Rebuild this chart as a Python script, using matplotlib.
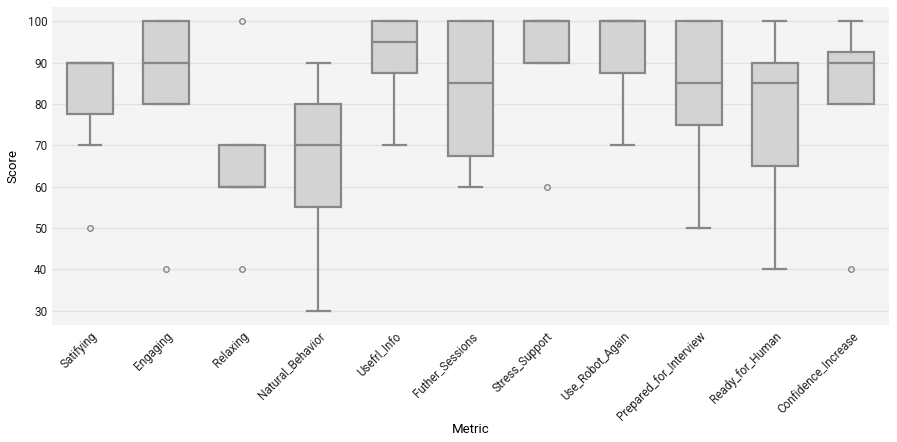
import matplotlib
matplotlib.use("Agg")
import matplotlib.pyplot as plt

plt.rcParams['font.family'] = ['Roboto', 'DejaVu Sans']

metrics = ["Satifying", "Engaging", "Relaxing", "Natural_Behavior", "Usefrl_Info",
           "Futher_Sessions", "Stress_Support", "Use_Robot_Again",
           "Prepared_for_Interview", "Ready_for_Human", "Confidence_Increase"]
q1 = [77.5, 80, 60, 55, 87.5, 67.5, 90, 87.5, 75, 65, 80]
med = [90, 90, 60, 70, 95, 85, 100, 100, 85, 85, 90]
q3 = [90, 100, 70, 80, 100, 100, 100, 100, 100, 90, 92.5]
whislo = [70, 80, 60, 30, 70, 60, 90, 70, 50, 40, 80]
whishi = [90, 100, 70, 90, 100, 100, 100, 100, 100, 100, 100]
fliers = [[50], [40], [100, 40], [], [], [], [60], [], [], [], [40]]
yticks = [30, 40, 50, 60, 70, 80, 90, 100]

stats = []
for i, m in enumerate(metrics):
    stats.append(dict(label=m, q1=q1[i], med=med[i], q3=q3[i],
                      whislo=whislo[i], whishi=whishi[i], fliers=fliers[i]))

fig = plt.figure(figsize=(8.97, 4.42), dpi=100)
ax = fig.add_axes([0.058, 0.2647, 0.933, 0.7195])
ax.set_facecolor('#f4f4f4')
edge = '#878787'
ax.bxp(stats, positions=range(len(metrics)), widths=0.6, patch_artist=True,
       boxprops=dict(facecolor='#d3d3d3', edgecolor=edge, linewidth=1.6),
       medianprops=dict(color=edge, linewidth=1.6),
       whiskerprops=dict(color=edge, linewidth=1.6),
       capprops=dict(color=edge, linewidth=1.6),
       flierprops=dict(marker='o', markersize=4, markerfacecolor='none',
                       markeredgecolor=edge, markeredgewidth=1.0),
       capwidths=0.3, zorder=3)
ax.set_xlim(-0.5, len(metrics) - 0.5)
ax.set_ylim(26.5, 103.5)
ax.set_yticks(yticks)
ax.yaxis.grid(True, color='#e2e2e2', linewidth=1.0, zorder=0)
ax.set_axisbelow(True)
for s in ax.spines.values():
    s.set_visible(False)
ax.tick_params(length=0, labelsize=8.5, colors='#222222')
ax.set_xticks(range(len(metrics)))
ax.set_xticklabels(metrics, rotation=45, ha='right', rotation_mode='anchor')
ax.set_xlabel('Metric', fontsize=9.5, labelpad=0)
ax.set_ylabel('Score', fontsize=9.5, labelpad=6)
fig.savefig('out.png', dpi=100)
